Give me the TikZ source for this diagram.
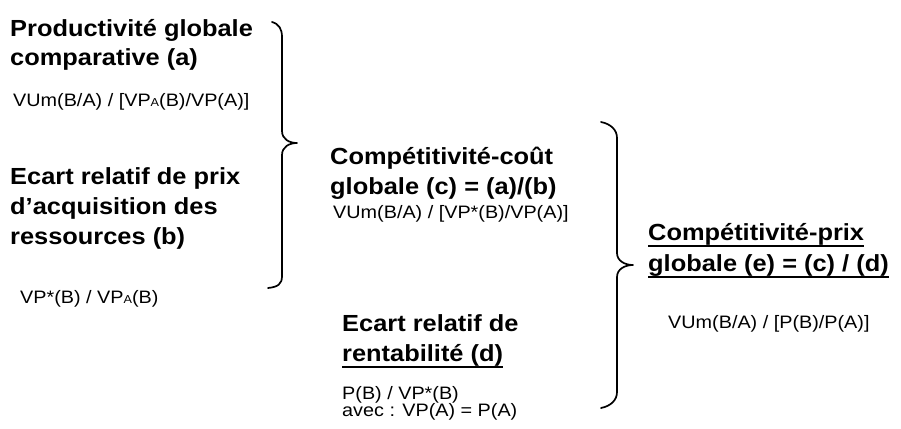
\documentclass[tikz,border=0pt]{standalone}
\usepackage{fontspec}
\setmainfont{Liberation Sans}
\newfontfamily\hfont[FakeStretch=1.09]{Liberation Sans}
\newfontfamily\ffont[FakeStretch=1.1]{Liberation Sans}
\newcommand{\subA}{\raisebox{-0.8pt}{\fontsize{11.5}{11.5}\selectfont A}}
\newcommand{\ulx}[1]{\setbox0\hbox{#1}\rlap{\rule[-6.5pt]{\wd0}{1.7pt}}\box0}
\tikzset{
  head/.style={font=\hfont\bfseries\fontsize{23.3}{28}\selectfont, anchor=base west, inner sep=0pt},
  formula/.style={font=\ffont\fontsize{18}{18}\selectfont, anchor=base west, inner sep=0pt},
  bracepath/.style={line width=1.7pt, line join=round, line cap=round},
}
\begin{document}
\begin{tikzpicture}[x=1pt,y=-1pt]
\useasboundingbox (0,0) rectangle (901,428);
% group (a)
\node[head] (a1) at (10,37) {Productivité globale};
\node[head] (a2) at (10,65) {comparative (a)};
\node[formula] (af) at (13,106) {VUm(B/A) / [VP\subA(B)/VP(A)]};
% group (b)
\node[head] (b1) at (10,184) {Ecart relatif de prix};
\node[head] (b2) at (10,214) {d’acquisition des};
\node[head] (b3) at (10,244) {ressources (b)};
\node[formula] (bf) at (20,303) {VP*(B) / VP\subA(B)};
% group (c)
\node[head] (c1) at (330,164) {Compétitivité-coût};
\node[head] (c2) at (330,194) {globale (c) = (a)/(b)};
\node[formula] (cf) at (333,218) {VUm(B/A) / [VP*(B)/VP(A)]};
% group (d)
\node[head] (d1) at (342,331) {Ecart relatif de};
\node[head] (d2) at (342,361) {\ulx{rentabilité (d)}};
\node[formula] (df1) at (342,399) {P(B) / VP*(B)};
\node[formula] (df2) at (342,416) {avec : VP(A) = P(A)};
% group (e)
\node[head] (e1) at (648,240) {\ulx{Compétitivité-prix}};
\node[head] (e2) at (648,271) {\ulx{globale (e) = (c) / (d)}};
\node[formula] (ef) at (668,328) {VUm(B/A) / [P(B)/P(A)]};
% brace 1
\coordinate (p1top) at (272,22);
\coordinate (p1tip) at (297,143);
\coordinate (p1bot) at (268,288);
\draw[bracepath] (p1top) .. controls (279,24) and (282,29) .. (282,37)
  -- (282,131) .. controls (282,139) and (289,143) .. (p1tip)
  .. controls (289,143) and (282,147) .. (282,155)
  -- (282,276) .. controls (282,284) and (278,287) .. (p1bot);
% brace 2
\coordinate (p2top) at (601,122);
\coordinate (p2tip) at (633,265);
\coordinate (p2bot) at (601,408);
\draw[bracepath] (p2top) .. controls (611,124) and (617,130) .. (617,138)
  -- (617,253) .. controls (617,261) and (625,265) .. (p2tip)
  .. controls (625,265) and (617,269) .. (617,277)
  -- (617,392) .. controls (617,400) and (611,406) .. (p2bot);
\end{tikzpicture}
\end{document}
